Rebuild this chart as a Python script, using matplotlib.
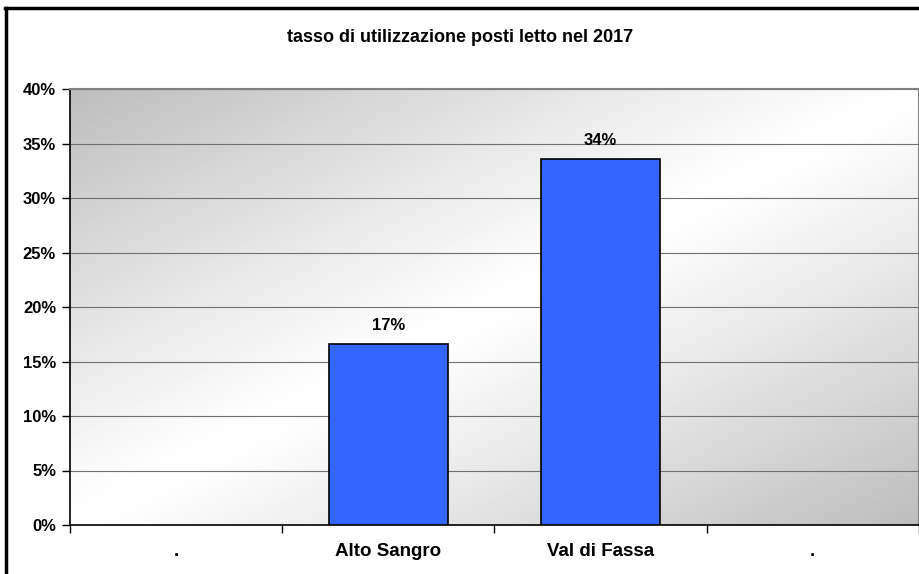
import numpy as np
import matplotlib
matplotlib.use("Agg")
import matplotlib.pyplot as plt
from matplotlib.lines import Line2D

plt.rcParams['font.family'] = ['Liberation Sans', 'DejaVu Sans']
plt.rcParams['font.weight'] = 'bold'

title = "tasso di utilizzazione posti letto nel 2017"
categories = [".", "Alto Sangro", "Val di Fassa", "."]
values = [0.0, 16.6, 33.6, 0.0]   # percent
yticks = [0, 5, 10, 15, 20, 25, 30, 35, 40]

fig = plt.figure(figsize=(9.2, 5.74), dpi=100)
ax = fig.add_axes([70 / 920, 1 - 525 / 574, 849 / 920, 436 / 574])

# diagonal gray-white-gray background of the plot area
nx, ny = 400, 200
u = np.linspace(0, 1, nx)[None, :]
v = np.linspace(0, 1, ny)[:, None]
s = (u + v) / 2
shade = 1.0 - 0.26 * (np.abs(s - 0.5) * 2) ** 1.1
ax.imshow(shade, cmap='gray', vmin=0, vmax=1, extent=[0, 1, 0, 1],
          transform=ax.transAxes, aspect='auto', zorder=0, origin='upper',
          interpolation='bilinear')

x = np.arange(len(categories))
bars = ax.bar(x, values, width=0.56, color='#3366ff', edgecolor='black',
              linewidth=1.2, zorder=3)
for b, val in zip(bars, values):
    if val > 0:
        ax.annotate(f"{val:.0f}%", (b.get_x() + b.get_width() / 2, val),
                    xytext=(0, 8), textcoords='offset points',
                    ha='center', va='bottom', fontsize=12, fontweight='bold')
    else:
        b.set_linewidth(0)

ax.set_xlim(-0.5, len(categories) - 0.5)
ax.set_ylim(0, 40)
ax.set_yticks(yticks)
ax.set_yticklabels([f"{t}%" for t in yticks], fontsize=12, fontweight='bold')
ax.yaxis.grid(True, color='#707070', linewidth=0.8, zorder=1)
ax.set_axisbelow(True)

ax.set_xticks(x)
ax.set_xticklabels(categories, fontsize=13.5, fontweight='bold')
ax.set_xticks(np.arange(len(categories) + 1) - 0.5, minor=True)
ax.tick_params(axis='x', which='major', length=0, pad=13)
ax.tick_params(axis='x', which='minor', length=6, width=1, direction='out')
ax.tick_params(axis='y', length=6, width=1, direction='out', pad=4)

for side in ('left', 'bottom'):
    ax.spines[side].set_color('black')
    ax.spines[side].set_linewidth(1.2)
for side in ('top', 'right'):
    ax.spines[side].set_color('#808080')
    ax.spines[side].set_linewidth(1.5)

fig.text(0.5, 1 - 38 / 574, title, ha='center', va='center',
         fontsize=13, fontweight='bold')

# outer chart frame
fig.add_artist(Line2D([6 / 920, 6 / 920], [0, 1 - 8 / 574], color='black',
                      linewidth=2.5, transform=fig.transFigure))
fig.add_artist(Line2D([5 / 920, 1], [1 - 8 / 574, 1 - 8 / 574], color='black',
                      linewidth=2.5, transform=fig.transFigure))

fig.savefig("out.png", dpi=100)
